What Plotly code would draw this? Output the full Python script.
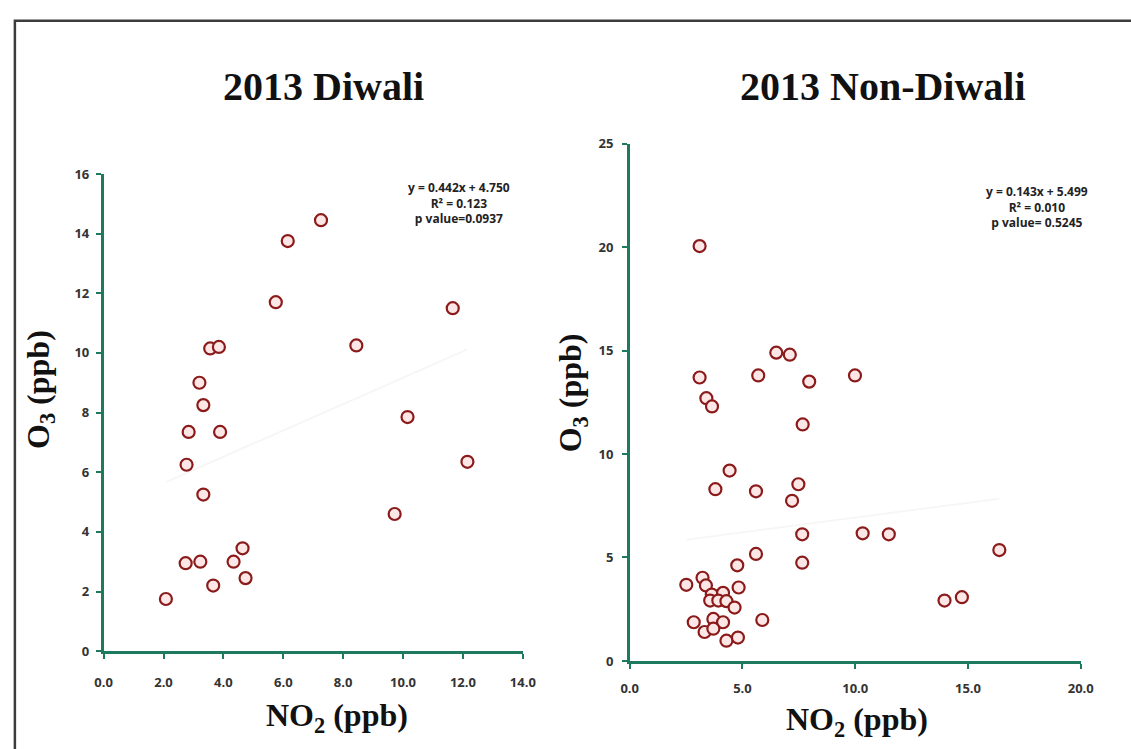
import plotly.graph_objects as go

# O3 vs NO2 during the 2013 Diwali period (ppb)
diwali_no2 = [2.08, 2.74, 3.23, 3.66, 4.34, 4.64, 4.74, 2.77, 3.33, 2.84, 3.89, 3.33,
              3.20, 3.56, 3.85, 7.26, 6.15, 5.75, 11.66, 8.44, 10.15, 12.15, 9.72]
diwali_o3 = [1.75, 2.95, 3.00, 2.20, 3.00, 3.45, 2.45, 6.25, 5.25, 7.35, 7.35, 8.25,
             9.00, 10.15, 10.20, 14.45, 13.75, 11.70, 11.50, 10.25, 7.85, 6.35, 4.60]

# O3 vs NO2 during the 2013 non-Diwali period (ppb)
non_diwali_no2 = [3.10, 3.10, 3.40, 3.65, 6.50, 7.10, 5.70, 7.96, 9.99, 7.67, 4.43, 3.80,
                  5.60, 7.48, 7.20, 7.65, 10.33, 11.49, 16.39, 5.60, 7.65, 13.96, 14.73,
                  4.77, 2.51, 3.23, 3.38, 4.83, 3.64, 4.14, 3.57, 3.93, 4.29, 4.65,
                  3.71, 2.84, 4.14, 5.88, 3.32, 3.71, 4.29, 4.80]
non_diwali_o3 = [20.05, 13.70, 12.70, 12.30, 14.90, 14.80, 13.80, 13.50, 13.80, 11.43, 9.20, 8.30,
                 8.20, 8.54, 7.74, 6.12, 6.17, 6.12, 5.36, 5.17, 4.75, 2.92, 3.08,
                 4.62, 3.68, 4.02, 3.65, 3.55, 3.21, 3.29, 2.92, 2.92, 2.89, 2.58,
                 2.03, 1.87, 1.87, 1.98, 1.40, 1.56, 0.98, 1.13]

# Linear fits reported on each panel
fits = [
    {"slope": 0.442, "intercept": 4.750, "r2": "0.123", "p": "p value=0.0937"},
    {"slope": 0.143, "intercept": 5.499, "r2": "0.010", "p": "p value= 0.5245"},
]

panel_titles = ["2013 Diwali", "2013 Non-Diwali"]
x_ticks = [list(range(0, 15, 2)), list(range(0, 21, 5))]
y_ticks = [list(range(0, 17, 2)), list(range(0, 26, 5))]

W, H = 1131, 749
AXIS = "#1e7a5f"
MARK_LINE = "#8b1a1a"
MARK_FILL = "#fde6e6"
SERIF = "Liberation Serif"
SANS = "Open Sans"


def px(x):
    return x / W


def py(y):
    return 1 - y / H


fig = go.Figure()

series = [(diwali_no2, diwali_o3, "x", "y"), (non_diwali_no2, non_diwali_o3, "x2", "y2")]
for (xs, ys, xa, ya), fit in zip(series, fits):
    lo, hi = min(xs), max(xs)
    # faint fitted trend line
    fig.add_trace(go.Scatter(
        x=[lo, hi], y=[fit["slope"] * lo + fit["intercept"], fit["slope"] * hi + fit["intercept"]],
        mode="lines", line=dict(color="rgba(0,0,0,0.035)", width=2),
        xaxis=xa, yaxis=ya, showlegend=False, hoverinfo="skip"))
    fig.add_trace(go.Scatter(
        x=xs, y=ys, mode="markers", xaxis=xa, yaxis=ya, showlegend=False,
        marker=dict(symbol="circle", size=12, color=MARK_FILL,
                    line=dict(color=MARK_LINE, width=2.2))))

tickfont = dict(family=SANS, size=13, color="#333333", weight="bold")
axis_common = dict(showline=True, linecolor=AXIS, linewidth=2.5, ticks="outside",
                   ticklen=5, tickwidth=2, tickcolor=AXIS, showgrid=False,
                   zeroline=False, tickfont=tickfont, fixedrange=True)

fig.update_layout(
    width=W, height=H,
    margin=dict(l=0, r=0, t=0, b=0),
    paper_bgcolor="white", plot_bgcolor="white",
    xaxis=dict(domain=[px(96.5), px(524)], range=[0, 14], tickvals=x_ticks[0],
               tickformat=".1f", anchor="y", ticklabelstandoff=12, **axis_common),
    yaxis=dict(domain=[py(658), py(169)], range=[0, 16], tickvals=y_ticks[0],
               anchor="x", ticklabelstandoff=4, **axis_common),
    xaxis2=dict(domain=[px(633), px(1093)], range=[0, 20], tickvals=x_ticks[1],
                tickformat=".1f", anchor="y2", ticklabelstandoff=9, **axis_common),
    yaxis2=dict(domain=[py(668), py(138)], range=[0, 25], tickvals=y_ticks[1],
                anchor="x2", ticklabelstandoff=6, **axis_common),
)

# Outer frame
fig.add_shape(type="rect", xref="paper", yref="paper",
              x0=px(6), x1=1.02, y0=-0.02, y1=py(12),
              line=dict(color="#3c3c3c", width=2.5), fillcolor="rgba(0,0,0,0)")

annotations = []
title_font = dict(family=SERIF, size=40, color="#111111", weight="bold")
label_font = dict(family=SERIF, size=32, color="#111111", weight="bold")

for title, cx in zip(panel_titles, [321, 891]):
    annotations.append(dict(text=title, x=px(cx), y=py(79), xref="paper", yref="paper",
                            showarrow=False, font=title_font, xanchor="center", yanchor="middle"))

for cx, cy in [(334, 726), (865, 730)]:
    annotations.append(dict(text="NO<sub>2</sub> (ppb)", x=px(cx), y=py(cy), xref="paper",
                            yref="paper", showarrow=False, font=label_font,
                            xanchor="center", yanchor="middle"))

for cx, cy in [(32, 390), (575, 393)]:
    annotations.append(dict(text="O<sub>3</sub> (ppb)", x=px(cx), y=py(cy), xref="paper",
                            yref="paper", showarrow=False, font=label_font, textangle=-90,
                            xanchor="center", yanchor="middle"))

for fit, (cx, cy) in zip(fits, [(459, 199), (1048, 203)]):
    text = (f"y = {fit['slope']:.3f}x + {fit['intercept']:.3f}<br>"
            f"R² = {fit['r2']}<br>{fit['p']}")
    annotations.append(dict(text=text, x=px(cx), y=py(cy), xref="paper", yref="paper",
                            showarrow=False, align="center", xanchor="center", yanchor="middle",
                            font=dict(family=SANS, size=12, color="#222222", weight="bold")))

fig.update_layout(annotations=annotations)

fig.write_html("out.html")
